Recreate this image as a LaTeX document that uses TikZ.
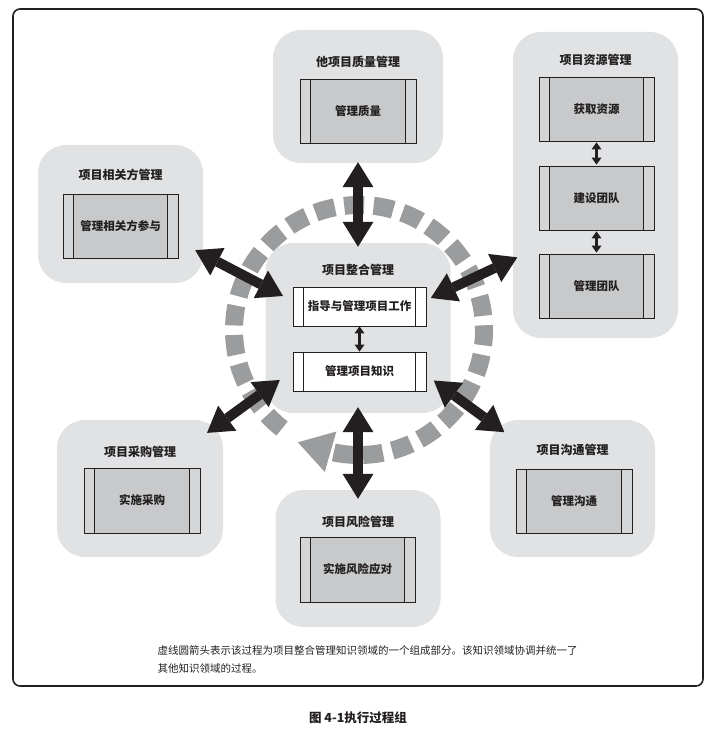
\documentclass[tikz,border=0pt]{standalone}
\usepackage{fontspec}
\setmainfont{Noto Sans CJK SC}
\usetikzlibrary{arrows.meta, positioning, calc}
\definecolor{areac}{HTML}{E1E2E4}
\definecolor{procc}{HTML}{C8C9CB}
\definecolor{bandc}{HTML}{D4D5D7}
\definecolor{ringc}{HTML}{9B9C9E}
\definecolor{inkc}{HTML}{231F20}

\begin{document}
\begin{tikzpicture}[x=1pt, y=-1pt,
      area/.style={rounded corners=28pt, fill=areac, minimum width=165pt, minimum height=137pt},
      ttl/.style={font=\bfseries\fontsize{12}{14}\selectfont, text=inkc},
      bands/.style={path picture={
          \fill[#1] (path picture bounding box.north west) rectangle ([xshift=10.5pt]path picture bounding box.south west);
          \fill[#1] (path picture bounding box.north east) rectangle ([xshift=-10.5pt]path picture bounding box.south east);
          \draw[inkc, line width=0.8pt] ([xshift=10.5pt]path picture bounding box.north west) -- ([xshift=10.5pt]path picture bounding box.south west);
          \draw[inkc, line width=0.8pt] ([xshift=-10.5pt]path picture bounding box.north east) -- ([xshift=-10.5pt]path picture bounding box.south east);}},
      proc/.style={draw=inkc, fill=procc, line width=0.8pt, bands=bandc,
                   minimum width=116pt, minimum height=64pt, text=inkc,
                   font=\bfseries\fontsize{11.5}{13}\selectfont},
      wproc/.style={proc, fill=white, bands=white, minimum width=133pt, minimum height=39pt},
      bigar/.style={{Triangle[length=25pt, width=31pt, line width=0pt]}-{Triangle[length=25pt, width=31pt, line width=0pt]},
                    draw=inkc, line width=10pt},
      smar/.style={{Triangle[length=7pt, width=10pt, line width=0pt]}-{Triangle[length=7pt, width=10pt, line width=0pt]},
                   draw=inkc, line width=2.5pt},
      ring/.style={draw=ringc, line width=18pt, dash pattern=on 20pt off 9.5pt,
                   -{Triangle[length=34pt, width=42pt, line width=0pt]}},
      note/.style={font=\fontsize{10.5}{18}\selectfont, text=inkc, align=left},
      figc/.style={font=\bfseries\fontsize{12.5}{15}\selectfont, text=inkc}]
    \useasboundingbox (0,0) rectangle (713,735);
    \draw[inkc, line width=1.6pt, rounded corners=7pt] (13,9) rectangle (703,686);

    % dashed ring round the integration area
    \coordinate (ctr) at (359,330);
    \draw[ring] ([shift={(232:125pt)}]ctr) arc[start angle=232, end angle=-103, radius=125pt] -- ++(-33,-9.5);

    % knowledge areas
    \node[area, minimum width=170pt, minimum height=133pt] (qu) at (358,96.5) {};
    \node[area, minimum height=306pt] (rs) at (595.5,185) {};
    \node[area, minimum height=138pt] (sh) at (120.5,214) {};
    \node[area, minimum width=185pt, minimum height=170pt] (pi) at (358,328) {};
    \node[area, minimum width=166pt] (pc) at (140,488.5) {};
    \node[area] (rk) at (358,558.5) {};
    \node[area] (cm) at (572.5,488.5) {};

    \node[ttl] (quT) at ([yshift=-32pt]qu.north) {他项目质量管理};
    \node[ttl] (rsT) at ([yshift=-28pt]rs.north) {项目资源管理};
    \node[ttl] (shT) at ([yshift=-30pt]sh.north) {项目相关方管理};
    \node[ttl] (piT) at ([yshift=-27pt]pi.north) {项目整合管理};
    \node[ttl] (pcT) at ([yshift=-32pt]pc.north) {项目采购管理};
    \node[ttl] (rkT) at ([yshift=-32pt]rk.north) {项目风险管理};
    \node[ttl] (cmT) at ([yshift=-30pt]cm.north) {项目沟通管理};

    % processes
    \node[proc] (qu1) at (358,111) {管理质量};
    \node[proc, minimum width=115pt] (rs1) at (596.5,109) {获取资源};
    \node[proc, minimum width=115pt] (rs2) at (596.5,198) {建设团队};
    \node[proc, minimum width=115pt] (rs3) at (596.5,286) {管理团队};
    \node[proc, minimum width=115pt] (sh1) at (120.5,226) {管理相关方参与};
    \node[wproc] (pi1) at (359.5,306.5) {指导与管理项目工作};
    \node[wproc] (pi2) at (359.5,371.5) {管理项目知识};
    \node[proc, minimum height=65pt] (pc1) at (142,500.5) {实施采购};
    \node[proc, minimum width=115pt, minimum height=65pt] (rk1) at (357.5,569.5) {实施风险应对};
    \node[proc] (cm1) at (574,501) {管理沟通};

    \draw[smar] (pi1.south) -- (pi2.north);
    \draw[smar, shorten <=1pt, shorten >=1pt] (rs1.south) -- (rs2.north);
    \draw[smar, shorten <=1pt, shorten >=1pt] (rs2.south) -- (rs3.north);

    % links to the integration area
    \draw[bigar, shorten <=-1pt, shorten >=-4pt] (qu.south) -- (pi.north);
    \draw[bigar, shorten <=-6pt, shorten >=-9pt] (pi.south) -- (rk.north);
    \draw[bigar, shorten <=-9pt, shorten >=-20pt] (sh.-26) -- (pi.156);
    \draw[bigar, shorten <=-22pt, shorten >=-5pt] (pi.23) -- (rs.222);
    \draw[bigar, shorten <=-18pt, shorten >=-20pt] (pi.214) -- (pc.39);
    \draw[bigar, shorten <=-21pt, shorten >=-18pt] (pi.-35) -- (cm.141);

    \node[note, anchor=west] (nt) at (154,659) {虚线圆箭头表示该过程为项目整合管理知识领域的一个组成部分。该知识领域协调并统一了\\其他知识领域的过程。};
    \node[figc] (fc) at (358,718) {图 4-1执行过程组};
\end{tikzpicture}
\end{document}
